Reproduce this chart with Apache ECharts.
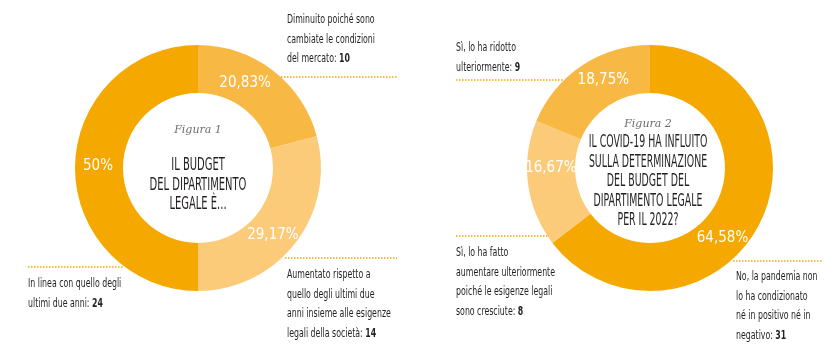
<!DOCTYPE html>
<html>
<head>
<meta charset="utf-8">
<title>Budget dipartimento legale</title>
<script src="https://cdn.jsdelivr.net/npm/echarts@6/dist/echarts.min.js"></script>
<style>
  html, body { margin: 0; padding: 0; background: #fff; }
  #chart { width: 840px; height: 354px; }
</style>
</head>
<body>
<div id="chart"></div>
<script>
// Figura 1 - il budget del dipartimento legale è...
var names1 = ['Diminuito', 'Aumentato', 'In linea'];
var values1 = [10, 14, 24];
var colors1 = ['#F8B944', '#FBCB7A', '#F5A800'];

// Figura 2 - il covid-19 ha influito sul budget 2022?
var names2 = ['No', 'Sì, aumentato', 'Sì, ridotto'];
var values2 = [31, 8, 9];
var colors2 = ['#F5A800', '#FBCB7A', '#F8B944'];

var FONT = '"Liberation Sans Narrow", "DejaVu Sans Condensed", "Noto Sans", sans-serif';
var ORANGE = '#F5A800';
var INK = '#231F20';

// spostamento etichette percentuali rispetto al centro della fetta
var shift1 = [[-15, -4], [-6, 5], [2, -2]];
var shift2 = [[-19, 25], [2, -13], [10, -3]];

function pct(p) {
    var s = p.toFixed(2);
    if (s.slice(-3) === '.00') s = s.slice(0, -3);
    return s.replace('.', ',') + '%';
}

function pieData(names, values, colors) {
    return values.map(function (v, i) {
        return { name: names[i], value: v, itemStyle: { color: colors[i] } };
    });
}

function pieSeries(cx, names, values, colors, shift) {
    return {
        type: 'pie',
        radius: [75, 123],
        center: [cx, 168],
        startAngle: 90,
        clockwise: true,
        silent: true,
        z: 5,
        label: {
            position: 'inside',
            color: '#fff',
            fontFamily: FONT,
            fontSize: 15,
            formatter: function (p) { return pct(p.percent); }
        },
        labelLayout: function (p) {
            return { dx: shift[p.dataIndex][0], dy: shift[p.dataIndex][1] };
        },
        labelLine: { show: false },
        data: pieData(names, values, colors)
    };
}

function dots(x1, x2, y) {
    return {
        type: 'line', z: 1,
        shape: { x1: x1, y1: y, x2: x2, y2: y },
        style: { stroke: ORANGE, lineWidth: 1.5, lineDash: [1.5, 1.5] }
    };
}

function note(x, y, text) {
    return {
        type: 'text', x: x, y: y, scaleX: 0.67, z: 10,
        style: {
            text: text, fill: INK, font: '13px ' + FONT,
            lineHeight: 19.5, align: 'left', verticalAlign: 'top',
            rich: { b: { fontWeight: 'bold', fontSize: 13, fontFamily: FONT, fill: INK } }
        }
    };
}

function figura(x, y, text) {
    return {
        type: 'text', x: x, y: y, z: 10,
        style: {
            text: text, fill: '#6d6d6d', font: 'italic 11px "DejaVu Serif", serif',
            align: 'center', verticalAlign: 'middle'
        }
    };
}

function heading(x, y, sx, text) {
    return {
        type: 'text', x: x, y: y, scaleX: sx, z: 10,
        style: {
            text: text, fill: INK, font: '18px ' + FONT,
            lineHeight: 19.5, align: 'center', verticalAlign: 'top'
        }
    };
}

var chart = echarts.init(document.getElementById('chart'));
chart.setOption({
    animation: false,
    backgroundColor: '#fff',
    series: [
        pieSeries(198, names1, values1, colors1, shift1),
        pieSeries(650, names2, values2, colors2, shift2)
    ],
    graphic: [
        dots(281, 397, 77),
        dots(285, 397, 258),
        dots(28, 123, 267),
        dots(456, 563, 80),
        dots(456, 558, 236),
        dots(733, 823, 261),

        note(287, 10, 'Diminuito poiché sono\ncambiate le condizioni\ndel mercato: {b|' + values1[0] + '}'),
        note(287, 265, 'Aumentato rispetto a\nquello degli ultimi due\nanni insieme alle esigenze\nlegali della società: {b|' + values1[1] + '}'),
        note(28, 274, 'In linea con quello degli\nultimi due anni: {b|' + values1[2] + '}'),

        note(456, 38, 'Sì, lo ha ridotto\nulteriormente: {b|' + values2[2] + '}'),
        note(456, 243, 'Sì, lo ha fatto\naumentare ulteriormente\npoiché le esigenze legali\nsono cresciute: {b|' + values2[1] + '}'),
        note(736, 267, 'No, la pandemia non\nlo ha condizionato\nné in positivo né in\nnegativo: {b|' + values2[0] + '}'),

        figura(198, 130, 'Figura 1'),
        heading(198, 156, 0.615, 'IL BUDGET\nDEL DIPARTIMENTO\nLEGALE È...'),
        figura(648, 124, 'Figura 2'),
        heading(648, 133, 0.58, 'IL COVID-19 HA INFLUITO\nSULLA DETERMINAZIONE\nDEL BUDGET DEL\nDIPARTIMENTO LEGALE\nPER IL 2022?')
    ]
});
</script>
</body>
</html>
